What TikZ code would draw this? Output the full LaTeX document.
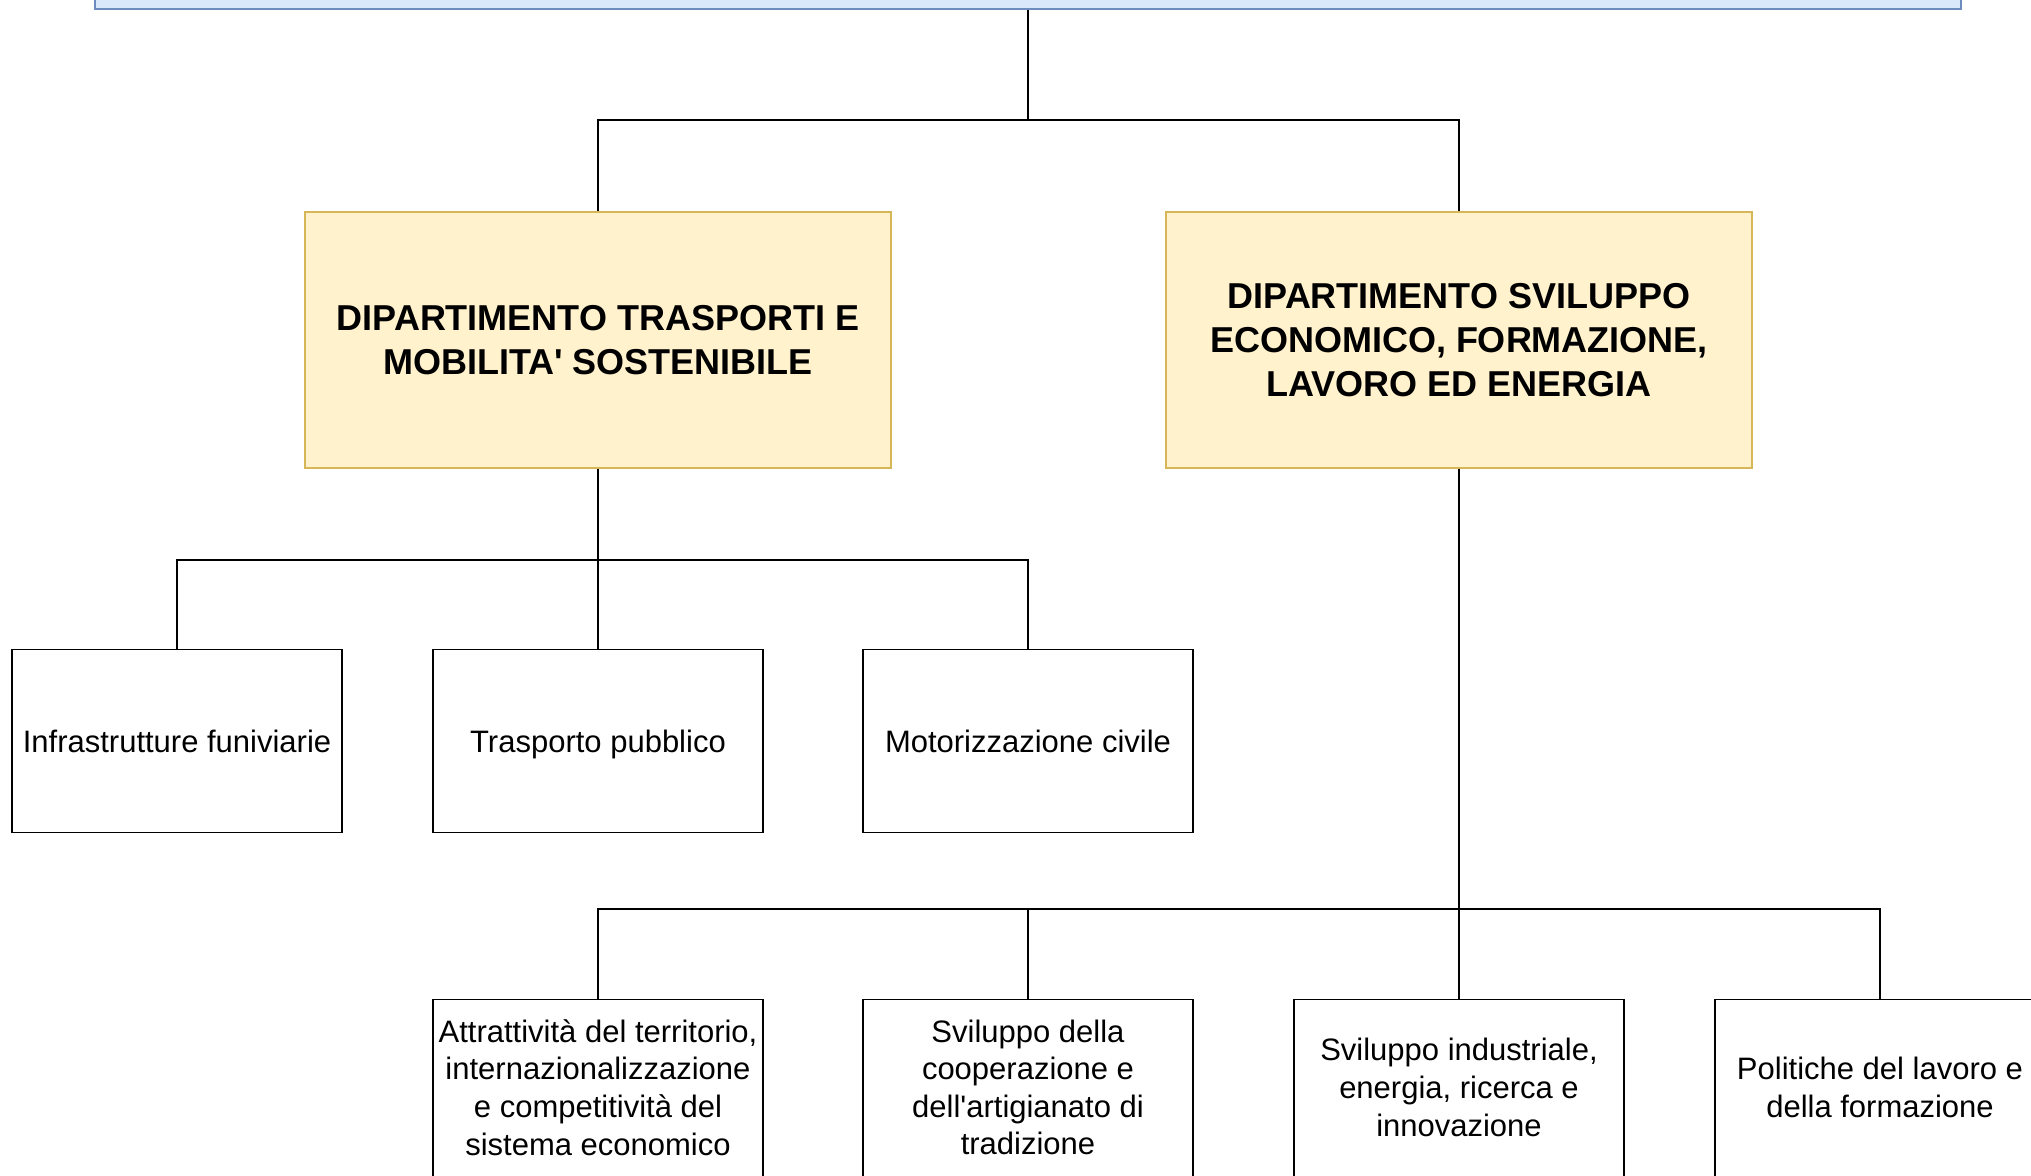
\documentclass[tikz,border=0pt]{standalone}
\usepackage{fontspec}
\setmainfont{Liberation Sans}[Ligatures=TeXOff]
\usepackage{tikz}
\usepackage{xcolor}
\definecolor{headfill}{HTML}{dae8fc}
\definecolor{headborder}{HTML}{6c8ebf}
\definecolor{deptfill}{HTML}{fff2cc}
\definecolor{deptborder}{HTML}{d6b656}
\newcommand{\officestrut}{\rule[-0.2\baselineskip]{0pt}{\baselineskip}}
\tikzset{%
  link/.style={line width=1pt},
  head/.style={rectangle,draw=headborder,fill=headfill,line width=1pt,minimum width=933pt,minimum height=60pt},
  dept/.style={rectangle,draw=deptborder,fill=deptfill,line width=0.8pt,minimum width=293pt,minimum height=128pt,align=center,font=\fontsize{18}{22}\selectfont\bfseries},
  office/.style={rectangle,draw,line width=0.9pt,minimum width=165pt,minimum height=91.5pt,inner sep=1pt,align=center,font=\fontsize{15.5}{18.8}\selectfont,
    execute at begin node=\officestrut,execute at end node=\officestrut},
}

\begin{document}
\begin{tikzpicture}[x=0.5pt,y=-0.5pt]
      \useasboundingbox (0,0) rectangle (2031,1176);
      \node[head] (provincia) at (1028,-51) {};

      \node[dept] (trasporti) at (598,340) {DIPARTIMENTO TRASPORTI E\\MOBILITA' SOSTENIBILE};
      \node[dept] (sviluppo) at (1459,340) {DIPARTIMENTO SVILUPPO\\ECONOMICO, FORMAZIONE,\\LAVORO ED ENERGIA};

      \node[office] (funiviarie) at (177,741) {Infrastrutture funiviarie};
      \node[office] (pubblico) at (598,741) {Trasporto pubblico};
      \node[office] (motorizzazione) at (1028,741) {Motorizzazione civile};

      \node[office] (attrattivita) at (598,1091) {Attrattività del territorio,\\internazionalizzazione\\e competitività del\\sistema economico};
      \node[office] (cooperazione) at (1028,1091) {Sviluppo della\\cooperazione e\\dell'artigianato di\\tradizione};
      \node[office] (industriale) at (1459,1091) {Sviluppo industriale,\\energia, ricerca e\\innovazione};
      \node[office] (lavoro) at (1880,1091) {Politiche del lavoro e\\della formazione};

      \draw[link] (provincia.south) -- ++(0,110) -| (trasporti.north);
      \draw[link] (provincia.south) -- ++(0,110) -| (sviluppo.north);

      \draw[link] (trasporti.south) -- ++(0,91) -| (funiviarie.north);
      \draw[link] (trasporti.south) -- (pubblico.north);
      \draw[link] (trasporti.south) -- ++(0,91) -| (motorizzazione.north);

      \draw[link] (sviluppo.south) -- ++(0,440) -| (attrattivita.north);
      \draw[link] (sviluppo.south) -- ++(0,440) -| (cooperazione.north);
      \draw[link] (sviluppo.south) -- (industriale.north);
      \draw[link] (sviluppo.south) -- ++(0,440) -| (lavoro.north);
    \end{tikzpicture}
\end{document}
